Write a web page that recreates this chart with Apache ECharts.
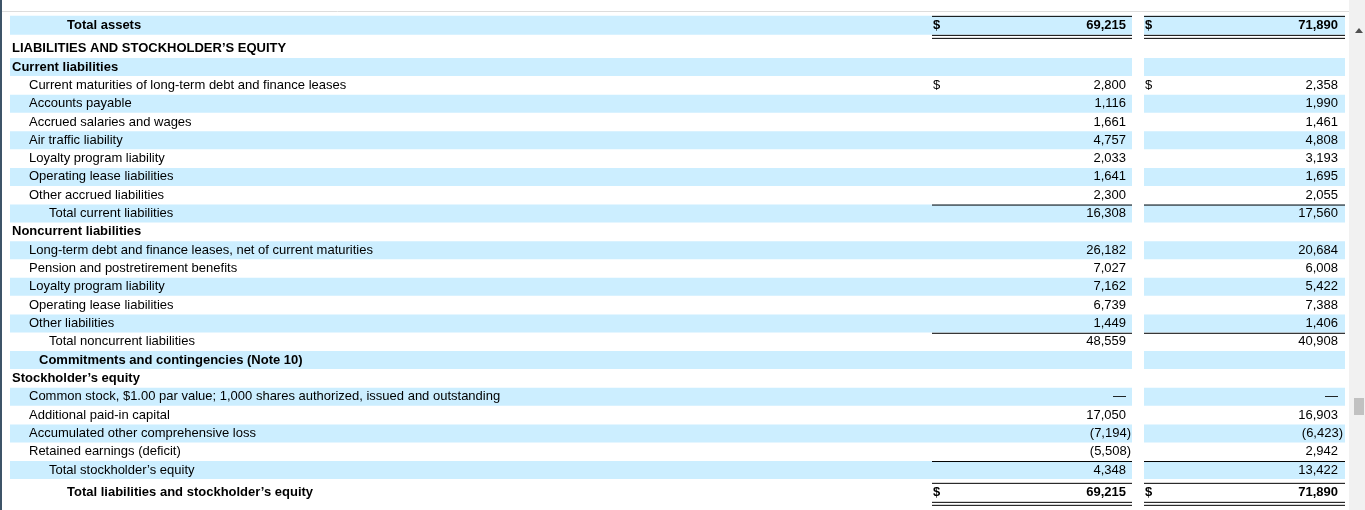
<!DOCTYPE html>
<html>
<head>
<meta charset="utf-8">
<script src="https://cdn.jsdelivr.net/npm/echarts@6/dist/echarts.min.js"></script>
<style>html,body{margin:0;padding:0;background:#fff}#main{width:1365px;height:510px}</style>
</head>
<body>
<div id="main"></div>
<script>
// table rows (balance sheet, liabilities side)
var labels = ['Total assets', 'LIABILITIES AND STOCKHOLDER\u2019S EQUITY', 'Current liabilities',
    'Current maturities of long-term debt and finance leases', 'Accounts payable', 'Accrued salaries and wages',
    'Air traffic liability', 'Loyalty program liability', 'Operating lease liabilities', 'Other accrued liabilities',
    'Total current liabilities', 'Noncurrent liabilities', 'Long-term debt and finance leases, net of current maturities',
    'Pension and postretirement benefits', 'Loyalty program liability', 'Operating lease liabilities', 'Other liabilities',
    'Total noncurrent liabilities', 'Commitments and contingencies (Note 10)', 'Stockholder\u2019s equity',
    'Common stock, $1.00 par value; 1,000 shares authorized, issued and outstanding', 'Additional paid-in capital',
    'Accumulated other comprehensive loss', 'Retained earnings (deficit)', 'Total stockholder\u2019s equity',
    'Total liabilities and stockholder\u2019s equity'];
var col1 = ['69,215', '', '', '2,800', '1,116', '1,661', '4,757', '2,033', '1,641', '2,300', '16,308', '',
    '26,182', '7,027', '7,162', '6,739', '1,449', '48,559', '', '', '\u2014', '17,050', '(7,194)', '(5,508)', '4,348', '69,215'];
var col2 = ['71,890', '', '', '2,358', '1,990', '1,461', '4,808', '3,193', '1,695', '2,055', '17,560', '',
    '20,684', '6,008', '5,422', '7,388', '1,406', '40,908', '', '', '\u2014', '16,903', '(6,423)', '2,942', '13,422', '71,890'];
// indent level: 0 header, 1 item, 2 subtotal, 3 grand total, 4 note
var indent = [3, 0, 0, 1, 1, 1, 1, 1, 1, 1, 2, 0, 1, 1, 1, 1, 1, 2, 4, 0, 1, 1, 1, 1, 2, 3];
var bold = [1, 1, 1, 0, 0, 0, 0, 0, 0, 0, 0, 1, 0, 0, 0, 0, 0, 0, 1, 1, 0, 0, 0, 0, 0, 1];
var shaded = [1, 0, 1, 0, 1, 0, 1, 0, 1, 0, 1, 0, 1, 0, 1, 0, 1, 0, 1, 0, 1, 0, 1, 0, 1, 0];
var dollar = [1, 0, 0, 1, 0, 0, 0, 0, 0, 0, 0, 0, 0, 0, 0, 0, 0, 0, 0, 0, 0, 0, 0, 0, 0, 1];
// 0 none, 1 single above, 2 single above + double below
var rule = [2, 0, 0, 0, 0, 0, 0, 0, 0, 0, 1, 0, 0, 0, 0, 0, 0, 1, 0, 0, 0, 0, 0, 0, 1, 2];

var indentX = [12, 29, 49, 67, 39];
var shade = '#cceeff';
var font = '"Liberation Sans", Arial, sans-serif';

var rows = labels.map(function (l, i) { return [i, l, col1[i], col2[i]]; });

var myChart = echarts.init(document.getElementById('main'));

function renderRow(params, api) {
    var i = api.value(0);
    var c = api.coord([0, i]);
    var h = api.size([0, 1])[1];
    var y = c[1];
    if (i === 0) y -= 5;
    if (i === rows.length - 1) y += 4;
    var bh = (i === 0 || i === rows.length - 1) ? 19 : 18;
    var top = y - bh / 2, bot = y + bh / 2;
    var kids = [];
    if (shaded[i]) {
        kids.push({ type: 'rect', shape: { x: 10, y: top, width: 1122, height: bh }, style: { fill: shade } });
        kids.push({ type: 'rect', shape: { x: 1144, y: top, width: 201, height: bh }, style: { fill: shade } });
    }
    var txt = { fill: '#000', font: (bold[i] ? 'bold ' : '') + '13px ' + font, textVerticalAlign: 'middle' };
    kids.push({ type: 'text', x: indentX[indent[i]], y: y, style: Object.assign({ text: labels[i] }, txt) });
    [[col1[i], 932, 1126], [col2[i], 1144, 1338]].forEach(function (cc) {
        if (dollar[i]) kids.push({ type: 'text', x: cc[1] + 1, y: y, style: Object.assign({ text: '$' }, txt) });
        if (cc[0]) {
            var paren = cc[0].charAt(0) === '(';
            kids.push({ type: 'text', x: cc[2] + (paren ? 5 : 0), y: y,
                style: Object.assign({ text: cc[0], textAlign: 'right' }, txt) });
        }
        var w = cc === undefined ? 0 : (cc[1] === 932 ? 200 : 201);
        if (rule[i] >= 1) {
            kids.push({ type: 'line', shape: { x1: cc[1], y1: top + 0.5, x2: cc[1] + w, y2: top + 0.5 }, style: { stroke: '#000', lineWidth: 1 } });
        }
        if (rule[i] === 2) {
            kids.push({ type: 'line', shape: { x1: cc[1], y1: bot + 0.5, x2: cc[1] + w, y2: bot + 0.5 }, style: { stroke: '#000', lineWidth: 1 } });
            kids.push({ type: 'line', shape: { x1: cc[1], y1: bot + 3.5, x2: cc[1] + w, y2: bot + 3.5 }, style: { stroke: '#000', lineWidth: 1 } });
        }
    });
    return { type: 'group', children: kids };
}

var option = {
    animation: false,
    grid: { left: 0, right: 0, top: 21.2, bottom: 12.5 },
    xAxis: { type: 'value', min: 0, max: 1365, show: false },
    yAxis: { type: 'category', inverse: true, show: false, data: labels },
    series: [{
        type: 'custom',
        renderItem: renderRow,
        encode: { y: 0 },
        data: rows
    }],
    graphic: [
        { type: 'line', shape: { x1: 0, y1: 11.5, x2: 1350, y2: 11.5 }, style: { stroke: '#dddddd', lineWidth: 1 } },
        { type: 'rect', shape: { x: 0, y: 0, width: 2, height: 510 }, style: { fill: '#3d5468' } },
        { type: 'rect', shape: { x: 1349, y: 0, width: 16, height: 510 }, style: { fill: '#f1f1f1' } },
        { type: 'rect', shape: { x: 1354, y: 398, width: 10, height: 17 }, style: { fill: '#c1c1c1' } },
        { type: 'polygon', shape: { points: [[1355, 33], [1359, 28], [1363, 33]] }, style: { fill: '#505050' } }
    ]
};
myChart.setOption(option);
</script>
</body>
</html>
